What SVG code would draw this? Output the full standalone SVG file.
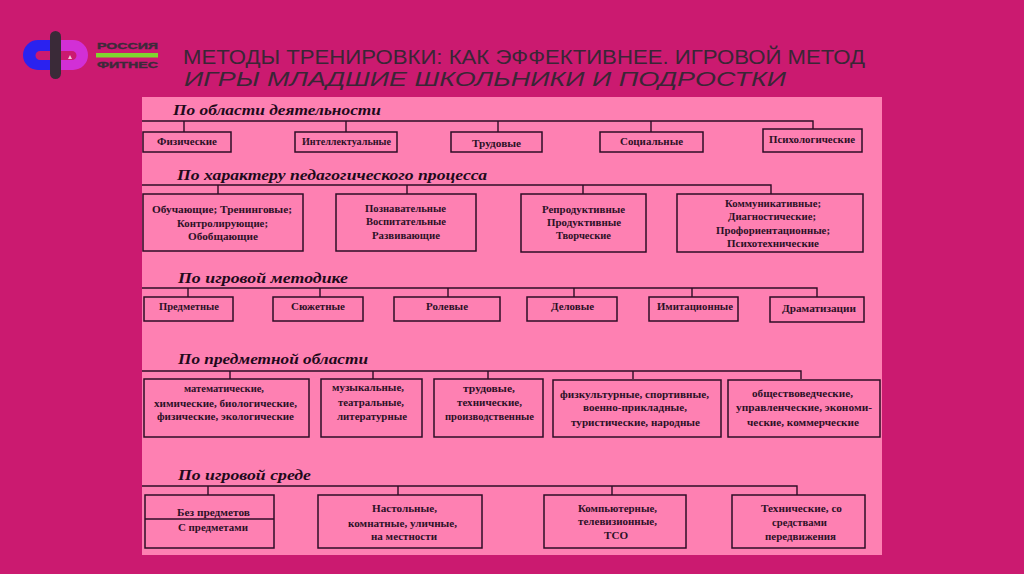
<svg xmlns="http://www.w3.org/2000/svg" width="1024" height="574" viewBox="0 0 1024 574">
<style>
.b{fill:none;stroke:#2e0c26;stroke-width:1.5}
.c{fill:none;stroke:#2e0c26;stroke-width:1.4}
.t{font-family:"Liberation Serif",serif;font-weight:700;font-size:11px;fill:#2c1026}
.h{font-family:"Liberation Serif",serif;font-weight:700;font-style:italic;font-size:15.500px;fill:#1f0a1b}
.title{font-family:"Liberation Sans",sans-serif;font-size:19.500px;fill:#3a2636}
.logo{font-family:"Liberation Sans",sans-serif;font-weight:700;font-size:9.500px;fill:#3d2a3a;stroke:#3d2a3a;stroke-width:.4}
</style>
<rect id="background" width="1024" height="574" fill="#cb1a70"/>
<g id="logo">
<path d="M50 40H38a15 15 0 0 0 0 30H50V60H40a4.500 4.500 0 0 1 0-9H50Z" fill="#2a22f0"/>
<path d="M61 40H73a15 15 0 0 1 0 30H61V60H72a4.500 4.500 0 0 0 0-9H61Z" fill="#d22fd6"/>
<rect x="50" y="31" width="11" height="48" rx="5.500" fill="#3a2a38"/>
<polygon points="70,55 72,59 68,59" fill="#f3c6da"/>
<text class="logo" x="97" y="49" textLength="61" lengthAdjust="spacingAndGlyphs">РОССИЯ</text>
<rect x="96" y="53" width="62" height="4.500" fill="#7fd62f"/>
<text class="logo" x="97" y="68" textLength="61" lengthAdjust="spacingAndGlyphs">ФИТНЕС</text>
</g>
<g id="title">
<text class="title" x="183" y="63.500" textLength="682" lengthAdjust="spacingAndGlyphs">МЕТОДЫ ТРЕНИРОВКИ: КАК ЭФФЕКТИВНЕЕ. ИГРОВОЙ МЕТОД</text>
<text class="title" x="184" y="86" font-style="italic" textLength="602" lengthAdjust="spacingAndGlyphs">ИГРЫ МЛАДШИЕ ШКОЛЬНИКИ И ПОДРОСТКИ</text>
</g>
<rect id="panel" x="142" y="97" width="740" height="458" fill="#fe80b2"/>
<g id="connectors">
<path class="c" d="M142 121H813V129M184 121V132M346 121V132M498 121V132M651 121V132"/>
<path class="c" d="M142 185H771V194M218 185V194M407 185V194M583 185V194"/>
<path class="c" d="M142 288H817V297M188 288V297M320 288V297M448 288V297M574 288V297M692 288V297"/>
<path class="c" d="M142 371H801V379M230 371V379M373 371V379M488 371V379M633 371V379"/>
<path class="c" d="M142 486H797V495M208 486V495M398 486V495M612 486V495"/>
</g>
<g id="headings">
<text class="h" x="173" y="115" textLength="208" lengthAdjust="spacingAndGlyphs">По области деятельности</text>
<text class="h" x="177" y="180" textLength="310" lengthAdjust="spacingAndGlyphs">По характеру педагогического процесса</text>
<text class="h" x="178" y="283" textLength="170" lengthAdjust="spacingAndGlyphs">По игровой методике</text>
<text class="h" x="178" y="364" textLength="190" lengthAdjust="spacingAndGlyphs">По предметной области</text>
<text class="h" x="178" y="480" textLength="133" lengthAdjust="spacingAndGlyphs">По игровой среде</text>
</g>
<g id="n1-1"><rect class="b" x="143" y="132" width="88" height="20"/><text class="t" x="157" y="145" textLength="60" lengthAdjust="spacingAndGlyphs">Физические</text></g>
<g id="n1-2"><rect class="b" x="295" y="132" width="102" height="20"/><text class="t" x="302" y="145" textLength="89" lengthAdjust="spacingAndGlyphs">Интеллектуальные</text></g>
<g id="n1-3"><rect class="b" x="451" y="132" width="91" height="20"/><text class="t" x="472" y="147" textLength="49" lengthAdjust="spacingAndGlyphs">Трудовые</text></g>
<g id="n1-4"><rect class="b" x="600" y="132" width="103" height="20"/><text class="t" x="620" y="145" textLength="63" lengthAdjust="spacingAndGlyphs">Социальные</text></g>
<g id="n1-5"><rect class="b" x="763" y="129" width="99" height="23"/><text class="t" x="769" y="143" textLength="86" lengthAdjust="spacingAndGlyphs">Психологические</text></g>
<g id="n2-1"><rect class="b" x="143" y="194" width="160" height="57"/>
<text class="t" x="152" y="213" textLength="140" lengthAdjust="spacingAndGlyphs">Обучающие; Тренинговые;</text>
<text class="t" x="177" y="227" textLength="91" lengthAdjust="spacingAndGlyphs">Контролирующие;</text>
<text class="t" x="188" y="240" textLength="70" lengthAdjust="spacingAndGlyphs">Обобщающие</text></g>
<g id="n2-2"><rect class="b" x="336" y="194" width="140" height="57"/>
<text class="t" x="365" y="212" textLength="81" lengthAdjust="spacingAndGlyphs">Познавательные</text>
<text class="t" x="366" y="225" textLength="80" lengthAdjust="spacingAndGlyphs">Воспитательные</text>
<text class="t" x="372" y="239" textLength="68" lengthAdjust="spacingAndGlyphs">Развивающие</text></g>
<g id="n2-3"><rect class="b" x="521" y="194" width="125" height="58"/>
<text class="t" x="542" y="213" textLength="83" lengthAdjust="spacingAndGlyphs">Репродуктивные</text>
<text class="t" x="547" y="226" textLength="74" lengthAdjust="spacingAndGlyphs">Продуктивные</text>
<text class="t" x="556" y="239" textLength="55" lengthAdjust="spacingAndGlyphs">Творческие</text></g>
<g id="n2-4"><rect class="b" x="677" y="194" width="186" height="58"/>
<text class="t" x="725" y="207" textLength="96" lengthAdjust="spacingAndGlyphs">Коммуникативные;</text>
<text class="t" x="728" y="220" textLength="88" lengthAdjust="spacingAndGlyphs">Диагностические;</text>
<text class="t" x="716" y="234" textLength="114" lengthAdjust="spacingAndGlyphs">Профориентационные;</text>
<text class="t" x="727" y="247" textLength="92" lengthAdjust="spacingAndGlyphs">Психотехнические</text></g>
<g id="n3-1"><rect class="b" x="144" y="297" width="89" height="24"/><text class="t" x="159" y="310" textLength="60" lengthAdjust="spacingAndGlyphs">Предметные</text></g>
<g id="n3-2"><rect class="b" x="273" y="297" width="90" height="24"/><text class="t" x="291" y="310" textLength="54" lengthAdjust="spacingAndGlyphs">Сюжетные</text></g>
<g id="n3-3"><rect class="b" x="394" y="297" width="106" height="24"/><text class="t" x="426" y="310" textLength="42" lengthAdjust="spacingAndGlyphs">Ролевые</text></g>
<g id="n3-4"><rect class="b" x="527" y="297" width="90" height="24"/><text class="t" x="551" y="310" textLength="43" lengthAdjust="spacingAndGlyphs">Деловые</text></g>
<g id="n3-5"><rect class="b" x="649" y="297" width="89" height="24"/><text class="t" x="657" y="310" textLength="76" lengthAdjust="spacingAndGlyphs">Имитационные</text></g>
<g id="n3-6"><rect class="b" x="770" y="297" width="94" height="25"/><text class="t" x="782" y="312" textLength="74" lengthAdjust="spacingAndGlyphs">Драматизации</text></g>
<g id="n4-1"><rect class="b" x="144" y="379" width="165" height="58"/>
<text class="t" x="184" y="392" textLength="80" lengthAdjust="spacingAndGlyphs">математические,</text>
<text class="t" x="154" y="407" textLength="143" lengthAdjust="spacingAndGlyphs">химические, биологические,</text>
<text class="t" x="157" y="420" textLength="137" lengthAdjust="spacingAndGlyphs">физические, экологические</text></g>
<g id="n4-2"><rect class="b" x="321" y="379" width="101" height="58"/>
<text class="t" x="332" y="391" textLength="72" lengthAdjust="spacingAndGlyphs">музыкальные,</text>
<text class="t" x="338" y="406" textLength="66" lengthAdjust="spacingAndGlyphs">театральные,</text>
<text class="t" x="337" y="420" textLength="70" lengthAdjust="spacingAndGlyphs">литературные</text></g>
<g id="n4-3"><rect class="b" x="434" y="379" width="109" height="58"/>
<text class="t" x="463" y="392" textLength="52" lengthAdjust="spacingAndGlyphs">трудовые,</text>
<text class="t" x="457" y="406" textLength="65" lengthAdjust="spacingAndGlyphs">технические,</text>
<text class="t" x="445" y="420" textLength="89" lengthAdjust="spacingAndGlyphs">производственные</text></g>
<g id="n4-4"><rect class="b" x="553" y="380" width="168" height="57"/>
<text class="t" x="560" y="398" textLength="149" lengthAdjust="spacingAndGlyphs">физкультурные, спортивные,</text>
<text class="t" x="583" y="411" textLength="104" lengthAdjust="spacingAndGlyphs">военно-прикладные,</text>
<text class="t" x="571" y="426" textLength="129" lengthAdjust="spacingAndGlyphs">туристические, народные</text></g>
<g id="n4-5"><rect class="b" x="728" y="380" width="152" height="57"/>
<text class="t" x="752" y="397" textLength="101" lengthAdjust="spacingAndGlyphs">обществоведческие,</text>
<text class="t" x="736" y="411" textLength="136" lengthAdjust="spacingAndGlyphs">управленческие, экономи-</text>
<text class="t" x="747" y="426" textLength="112" lengthAdjust="spacingAndGlyphs">ческие, коммерческие</text></g>
<g id="n5-1"><rect class="b" x="145" y="495" width="129" height="53"/><path class="b" d="M145 519H274"/>
<text class="t" x="177" y="516" textLength="73" lengthAdjust="spacingAndGlyphs">Без предметов</text>
<text class="t" x="178" y="531" textLength="70" lengthAdjust="spacingAndGlyphs">С предметами</text></g>
<g id="n5-2"><rect class="b" x="318" y="495" width="164" height="53"/>
<text class="t" x="372" y="512" textLength="65" lengthAdjust="spacingAndGlyphs">Настольные,</text>
<text class="t" x="348" y="527" textLength="109" lengthAdjust="spacingAndGlyphs">комнатные, уличные,</text>
<text class="t" x="371" y="540" textLength="66" lengthAdjust="spacingAndGlyphs">на местности</text></g>
<g id="n5-3"><rect class="b" x="544" y="495" width="142" height="53"/>
<text class="t" x="578" y="512" textLength="79" lengthAdjust="spacingAndGlyphs">Компьютерные,</text>
<text class="t" x="578" y="525" textLength="79" lengthAdjust="spacingAndGlyphs">телевизионные,</text>
<text class="t" x="604" y="539" textLength="24" lengthAdjust="spacingAndGlyphs">ТСО</text></g>
<g id="n5-4"><rect class="b" x="732" y="495" width="133" height="53"/>
<text class="t" x="761" y="512" textLength="81" lengthAdjust="spacingAndGlyphs">Технические, со</text>
<text class="t" x="772" y="526" textLength="55" lengthAdjust="spacingAndGlyphs">средствами</text>
<text class="t" x="765" y="540" textLength="71" lengthAdjust="spacingAndGlyphs">передвижения</text></g>
</svg>
